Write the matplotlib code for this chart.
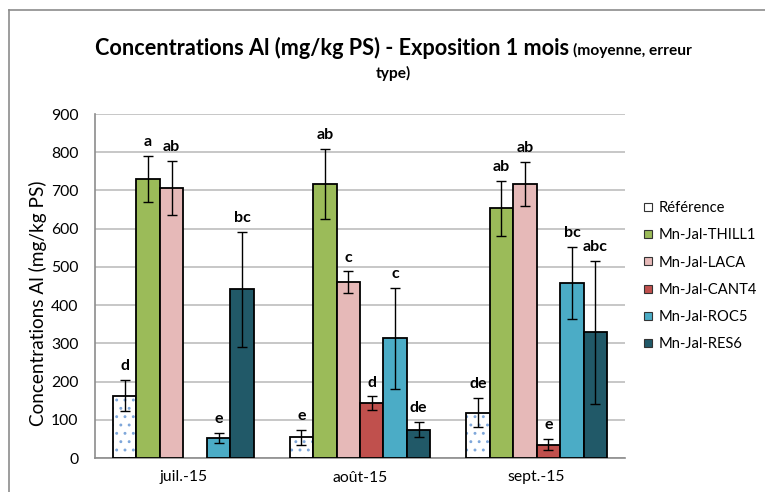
import matplotlib
matplotlib.use('Agg')
import matplotlib.pyplot as plt
import numpy as np
from matplotlib.lines import Line2D

plt.rcParams['font.family'] = ['Lato', 'DejaVu Sans']
plt.rcParams['hatch.linewidth'] = 0.9

months = ['juil.-15', 'août-15', 'sept.-15']
series = ['Référence', 'Mn-Jal-THILL1', 'Mn-Jal-LACA', 'Mn-Jal-CANT4', 'Mn-Jal-ROC5', 'Mn-Jal-RES6']

ref_mean = [163, 54, 119]
thill_mean = [730, 716, 653]
laca_mean = [706, 460, 716]
cant_mean = [np.nan, 143, 35]
roc_mean = [52, 313, 458]
res_mean = [441, 74, 329]

ref_err = [40, 20, 37]
thill_err = [60, 92, 72]
laca_err = [70, 28, 58]
cant_err = [np.nan, 18, 14]
roc_err = [14, 132, 94]
res_err = [150, 20, 187]

ref_let = ['d', 'e', 'de']
thill_let = ['a', 'ab', 'ab']
laca_let = ['ab', 'c', 'ab']
cant_let = ['', 'd', 'e']
roc_let = ['e', 'c', 'bc']
res_let = ['bc', 'de', 'abc']

means = [ref_mean, thill_mean, laca_mean, cant_mean, roc_mean, res_mean]
errs = [ref_err, thill_err, laca_err, cant_err, roc_err, res_err]
letters = [ref_let, thill_let, laca_let, cant_let, roc_let, res_let]
colors = ['white', '#9BBB59', '#E6B9B8', '#C0504D', '#4BACC6', '#215968']

W, H = 765, 492
fig = plt.figure(figsize=(W / 100, H / 100), dpi=100)
def fx(px): return px / W
def fy(py): return 1 - py / H

fig.canvas.draw()
R = fig.canvas.get_renderer()

def fit_size(s, target_px, weight='normal'):
    t = fig.text(0, 0, s, fontsize=10, fontweight=weight)
    bb = t.get_window_extent(R)
    t.remove()
    return 10 * target_px / bb.width

leg_fs = fit_size('Mn-Jal-THILL1', 97)
tick_fs = fit_size('juil.-15', 48)
ylab_fs = fit_size('Concentrations Al (mg/kg PS)', 245)
let_fs = fit_size('abc', 25, 'bold')
main_fs = fit_size('Concentrations Al (mg/kg PS) - Exposition 1 mois', 474, 'bold')
small_fs = fit_size('(moyenne, erreur', 119, 'bold')

ax = fig.add_axes([fx(95), fy(458), fx(625) - fx(95), fy(114) - fy(458)])

x = np.arange(len(months))
bw = 0.133
for i, (m, e, lets, c) in enumerate(zip(means, errs, letters, colors)):
    pos = x + (i - 2.5) * bw
    m = np.array(m, dtype=float)
    e = np.array(e, dtype=float)
    if i == 0:
        ax.bar(pos, m, bw, color='white', edgecolor='#7FA7DA', hatch='..', lw=0, zorder=2)
        ax.bar(pos, m, bw, color='none', edgecolor='black', lw=1.3, zorder=3)
    else:
        ax.bar(pos, m, bw, color=c, edgecolor='black', lw=1.3, zorder=3)
    ax.errorbar(pos, m, yerr=e, fmt='none', ecolor='black', elinewidth=1.0,
                capsize=3.5, capthick=1.0, zorder=4)
    for p, v, er, l in zip(pos, m, e, lets):
        if np.isnan(v) or not l:
            continue
        ax.annotate(l, (p, v + er), xytext=(0, 5), textcoords='offset points',
                    ha='center', va='bottom', fontsize=let_fs, fontweight='bold')

ax.set_xlim(-0.5, 2.5)
ax.set_ylim(0, 900)
ax.set_yticks(np.arange(0, 901, 100))
ax.set_xticks(x)
ax.set_xticklabels(months)
ax.tick_params(axis='both', length=0, labelsize=tick_fs, colors='black')
ax.tick_params(axis='x', pad=9)
ax.tick_params(axis='y', pad=12)
ax.yaxis.grid(True, color='#BEBEBE', lw=1.2, zorder=0)
ax.set_axisbelow(True)
for s in ['top', 'right']:
    ax.spines[s].set_visible(False)
for s in ['left', 'bottom']:
    ax.spines[s].set_color('#8C8C8C')
    ax.spines[s].set_linewidth(1.2)

fig.text(fx(38), fy(303), 'Concentrations Al (mg/kg PS)', rotation=90,
         ha='center', va='center', fontsize=ylab_fs)

# Title
fig.text(fx(95), fy(55), 'Concentrations Al (mg/kg PS) - Exposition 1 mois',
         ha='left', va='baseline', fontsize=main_fs, fontweight='bold')
fig.text(fx(692), fy(55), '(moyenne, erreur', ha='right', va='baseline',
         fontsize=small_fs, fontweight='bold')
fig.text(fx(393), fy(78), 'type)', ha='center', va='baseline',
         fontsize=small_fs, fontweight='bold')

# Legend
handles = []
for lab, c in zip(series, colors):
    handles.append(Line2D([], [], marker='s', linestyle='none', markersize=6,
                          markerfacecolor=c, markeredgecolor='#333333',
                          markeredgewidth=0.8, label=lab))
fig.legend(handles=handles, loc='upper left', bbox_to_anchor=(fx(643), fy(201)),
           frameon=False, fontsize=leg_fs, handlelength=0.7, handletextpad=0.35,
           labelspacing=0.9, borderpad=0, borderaxespad=0)

# Chart border
fig.add_artist(Line2D([fx(9), fx(9)], [fy(10), 0], color='#8C8C8C', lw=1.2))
fig.add_artist(Line2D([fx(9), 1], [fy(10), fy(10)], color='#8C8C8C', lw=1.2))

fig.savefig('out.png', dpi=100)
